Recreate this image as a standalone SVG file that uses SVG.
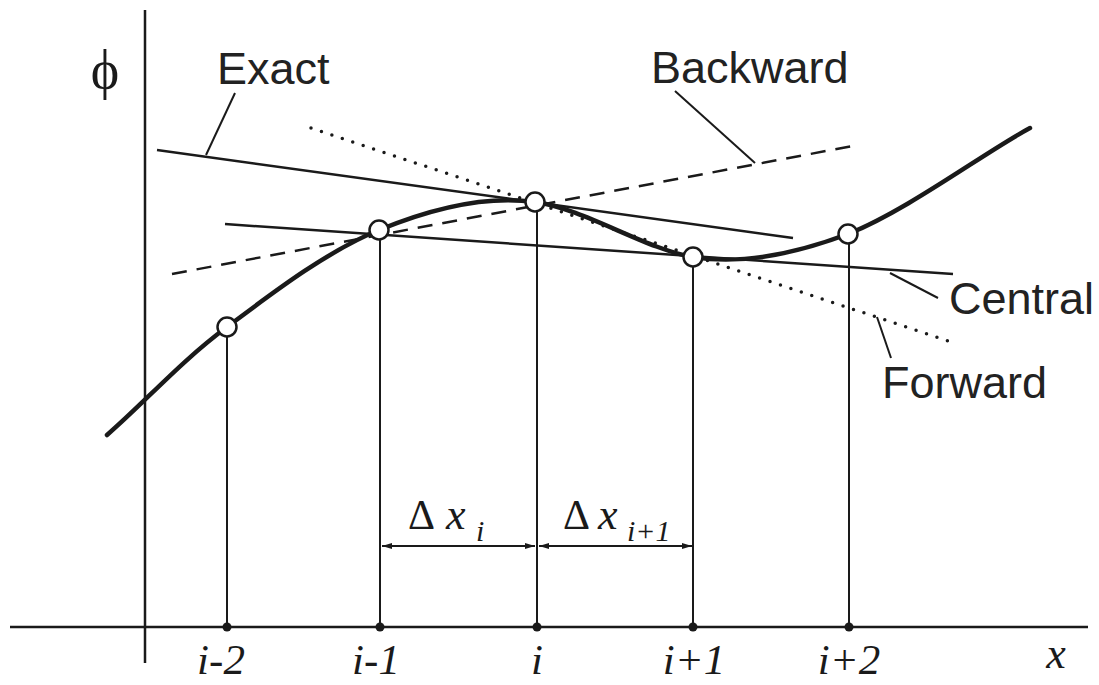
<svg xmlns="http://www.w3.org/2000/svg" width="1099" height="685" viewBox="0 0 1099 685">
  <style>
    .ax { stroke: #1a1a1a; stroke-width: 2.5; fill: none; }
    .drop { stroke: #1a1a1a; stroke-width: 2; fill: none; }
    .curve { stroke: #1a1a1a; stroke-width: 4.5; fill: none; stroke-linecap: round; }
    .tan { stroke: #1a1a1a; stroke-width: 2.5; fill: none; }
    .dash { stroke: #1a1a1a; stroke-width: 2.5; fill: none; stroke-dasharray: 15 10; }
    .dot { stroke: #1a1a1a; stroke-width: 3.5; fill: none; stroke-dasharray: 0 11; stroke-linecap: round; }
    .lead { stroke: #1a1a1a; stroke-width: 2; fill: none; }
    .node { fill: #ffffff; stroke: #1a1a1a; stroke-width: 2.5; }
    .tick { fill: #1a1a1a; }
    .lbl { font-family: "Liberation Sans", Arial, sans-serif; font-size: 45px; fill: #222; }
    .math { font-family: "Liberation Serif", "Times New Roman", serif; fill: #1a1a1a; }
    .it { font-style: italic; }
  </style>
  <defs>
    <marker id="arr" viewBox="0 0 10 6" refX="10" refY="3" markerWidth="10" markerHeight="6" markerUnits="userSpaceOnUse" orient="auto-start-reverse">
      <path d="M0,0 L10,3 L0,6 z" fill="#1a1a1a"/>
    </marker>
  </defs>
  <rect width="1099" height="685" fill="#ffffff"/>

  <g id="axes">
    <line class="ax" x1="145" y1="10" x2="145" y2="663"/>
    <line class="ax" x1="10" y1="627" x2="1088" y2="627"/>
    <text class="math" x="105" y="88" font-size="54" text-anchor="middle">ϕ</text>
    <text class="math it" x="1056" y="668" font-size="44" text-anchor="middle">x</text>
  </g>

  <g id="connectors">
    <!-- drop lines -->
    <line class="drop" x1="227" y1="336" x2="227" y2="627"/>
    <line class="drop" x1="380" y1="239" x2="380" y2="627"/>
    <line class="drop" x1="537" y1="211" x2="537" y2="627"/>
    <line class="drop" x1="693" y1="266" x2="693" y2="627"/>
    <line class="drop" x1="849" y1="243" x2="849" y2="627"/>
    <!-- tangent / approximations -->
    <line id="exact-line" class="tan" x1="157" y1="150" x2="793" y2="238"/>
    <line id="central-line" class="tan" x1="225" y1="224" x2="953" y2="274"/>
    <line id="backward-line" class="dash" x1="172" y1="274" x2="858" y2="145"/>
    <line id="forward-line" class="dot" x1="311" y1="128" x2="957" y2="344"/>
    <!-- exact curve -->
    <path class="curve" d="M107,435 C145,402 181,361 227,327 C272.7,292.8 327.7,250.8 379,230 C430,209 485,195 535,202 C585,209 645,249 693,257 C741,265 792,255 848,234 C908,210 985,152 1030,128"/>
    <!-- leaders -->
    <line class="lead" x1="235" y1="93" x2="206" y2="155"/>
    <line class="lead" x1="675" y1="91" x2="755" y2="163"/>
    <line class="lead" x1="890" y1="273" x2="938" y2="298"/>
    <line class="lead" x1="877" y1="317" x2="891" y2="358"/>
    <!-- dimension arrows -->
    <line class="drop" x1="382" y1="546" x2="535" y2="546" marker-start="url(#arr)" marker-end="url(#arr)"/>
    <line class="drop" x1="539" y1="546" x2="692" y2="546" marker-start="url(#arr)" marker-end="url(#arr)"/>
  </g>

  <g id="node-im2">
    <circle class="node" cx="227" cy="327" r="9.5"/>
    <circle class="tick" cx="227" cy="627" r="4.5"/>
    <text class="math it" x="221" y="674" font-size="43" text-anchor="middle">i-2</text>
  </g>
  <g id="node-im1">
    <circle class="node" cx="379" cy="230" r="9.5"/>
    <circle class="tick" cx="380" cy="627" r="4.5"/>
    <text class="math it" x="376" y="674" font-size="43" text-anchor="middle">i-1</text>
  </g>
  <g id="node-i">
    <circle class="node" cx="535" cy="202" r="9.5"/>
    <circle class="tick" cx="537" cy="627" r="4.5"/>
    <text class="math it" x="537" y="674" font-size="43" text-anchor="middle">i</text>
  </g>
  <g id="node-ip1">
    <circle class="node" cx="693" cy="257" r="9.5"/>
    <circle class="tick" cx="693" cy="627" r="4.5"/>
    <text class="math it" x="694" y="674" font-size="43" text-anchor="middle">i+1</text>
  </g>
  <g id="node-ip2">
    <circle class="node" cx="848" cy="234" r="9.5"/>
    <circle class="tick" cx="849" cy="627" r="4.5"/>
    <text class="math it" x="849" y="674" font-size="43" text-anchor="middle">i+2</text>
  </g>

  <g id="labels">
    <text class="lbl" x="217" y="84">Exact</text>
    <text class="lbl" x="651" y="83">Backward</text>
    <text class="lbl" x="949" y="314">Central</text>
    <text class="lbl" x="882" y="398">Forward</text>
  </g>

  <g id="dx-labels">
    <text class="math" x="408" y="529" font-size="42">Δ</text>
    <text class="math it" x="446" y="529" font-size="44">x</text>
    <text class="math it" x="476" y="541" font-size="30">i</text>
    <text class="math" x="563" y="529" font-size="42">Δ</text>
    <text class="math it" x="598" y="529" font-size="44">x</text>
    <text class="math it" x="627" y="541" font-size="30">i+1</text>
  </g>
</svg>
